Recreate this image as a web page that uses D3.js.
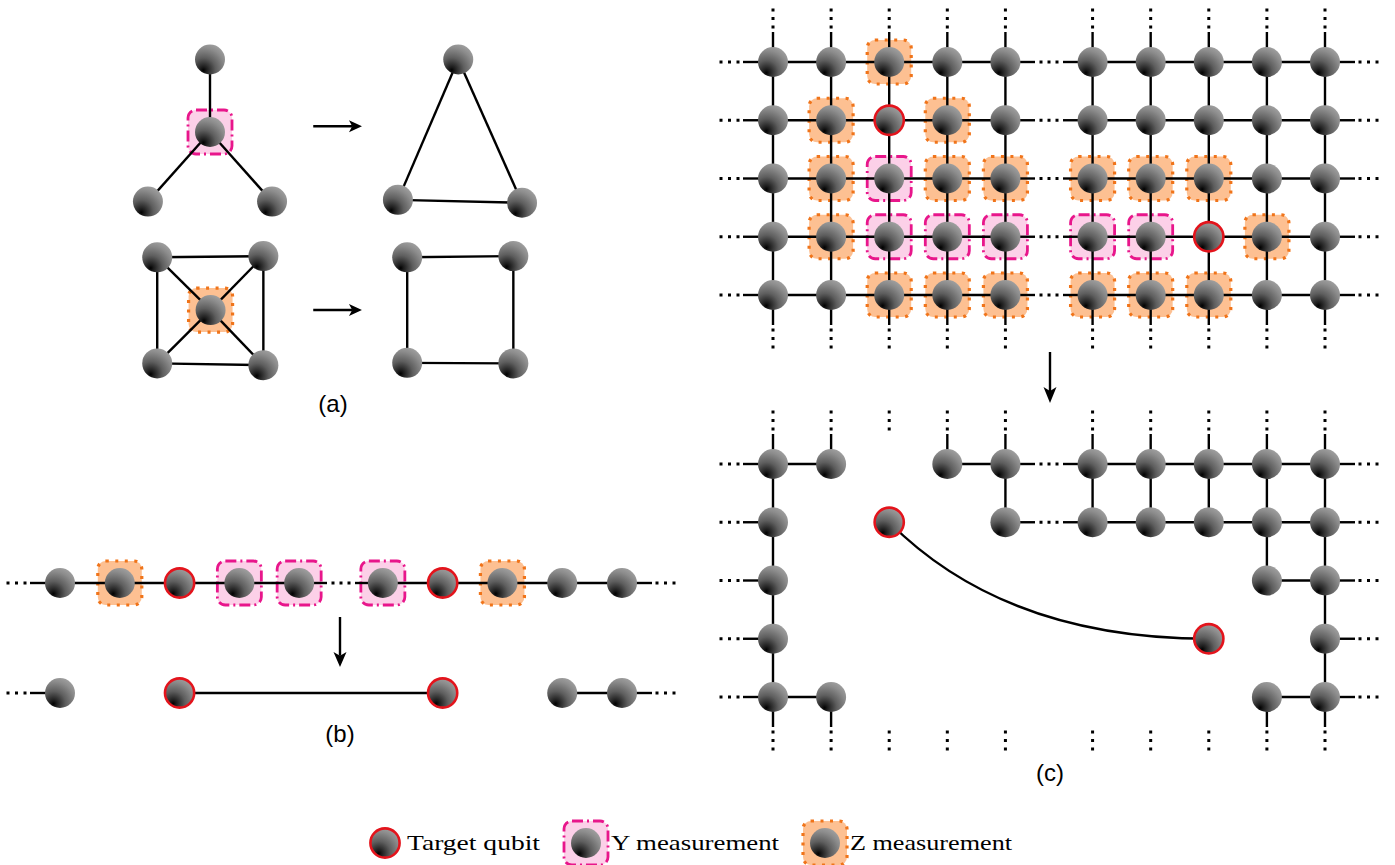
<!DOCTYPE html>
<html>
<head>
<meta charset="utf-8">
<script src="https://cdn.jsdelivr.net/npm/d3@7"></script>
<style>
  html, body { margin: 0; padding: 0; background: #fff; }
  svg { display: block; }
</style>
</head>
<body>
<svg id="fig" width="1395" height="865"></svg>
<script>
// ---- panel (a): small graphs, coordinates in node-spacing units around the star centre
const starNodes = [[0, -1.25], [0, 0], [-1.07, 1.2], [1.07, 1.2]];
const starKinds = ["o", "Y", "o", "o"];
const starEdges = [[1, 0], [1, 2], [1, 3]];
const triNodes = [[4.28, -1.25], [3.24, 1.17], [5.38, 1.22]];
const triEdges = [[0, 1], [1, 2], [2, 0]];
const sqNodes = [[-0.91, 2.16], [0.92, 2.14], [-0.91, 3.99], [0.92, 4.02], [0.01, 3.07]];
const sqKinds = ["o", "o", "o", "o", "Z"];
const sqEdges = [[0, 1], [1, 3], [3, 2], [2, 0], [0, 4], [1, 4], [2, 4], [3, 4]];
const sq2Nodes = [[3.4, 2.16], [5.23, 2.14], [3.4, 3.98], [5.23, 3.99]];
const sq2Edges = [[0, 1], [1, 3], [3, 2], [2, 0]];
const aArrows = [[1.78, -0.1, 2.62, -0.1], [1.78, 3.07, 2.62, 3.07]];

// ---- panel (b): linear cluster
const bUnits = [0, 1, 2, 3, 4, 5.4, 6.4, 7.4, 8.4, 9.4];
const bBefore = ["o", "Z", "T", "Y", "Y", "Y", "T", "Z", "o", "o"];
const bAfter = ["o", ".", "T", ".", ".", ".", "T", ".", "o", "o"];
const bAfterEdges = [[2, 6], [8, 9]];

// ---- panel (c): square lattice, before and after the measurements
const cUnits = [0, 1, 2, 3, 4, 5.5, 6.5, 7.5, 8.5, 9.5];
const cBefore = [
  "ooZooooooo",
  "oZTZoooooo",
  "oZYZZZZZoo",
  "oZYYYYYTZo",
  "ooZZZZZZoo"
];
const cAfter = [
  "oo.ooooooo",
  "o.T.oooooo",
  "o.......oo",
  "o......T.o",
  "oo......oo"
];
// horizontal edges [col, row] -> col+1 ; vertical edges [col, row] -> row+1
const cAfterH = [[0, 0], [3, 0], [4, 0], [5, 0], [6, 0], [7, 0], [8, 0],
                 [4, 1], [5, 1], [6, 1], [7, 1], [8, 1], [8, 2], [0, 4], [8, 4]];
const cAfterV = [[0, 0], [0, 1], [0, 2], [0, 3], [4, 0], [5, 0], [6, 0], [7, 0],
                 [8, 0], [8, 1], [9, 0], [9, 1], [9, 2], [9, 3]];
const cAfterTopLine = [0, 1, 3, 4, 5, 6, 7, 8, 9];
const cAfterTopDots = [2];
const cAfterBotLine = [0, 1, 8, 9];
const cAfterBotDots = [2, 3, 4, 5, 6, 7];
const cCurve = [[2, 1], [4, 3], [7.5, 3]];

const panelLabels = ["(a)", "(b)", "(c)"];
const legendLabels = ["Target qubit", "Y measurement", "Z measurement"];
const legendKinds = ["T", "Y", "Z"];
const legendWidths = [133, 168, 162];

// ---- scales
const xA = d3.scaleLinear().domain([0, 1]).range([210, 268]);
const yA = d3.scaleLinear().domain([0, 1]).range([132, 190]);
const xB = d3.scaleLinear().domain([0, 9.4]).range([60, 622]);
const yB = d3.scaleLinear().domain([0, 1]).range([583, 693]);
const xC = d3.scaleLinear().domain([0, 9.5]).range([773, 1325]);
const yC1 = d3.scaleLinear().domain([0, 4]).range([62, 295]);
const yC2 = d3.scaleLinear().domain([0, 4]).range([464, 697]);

const NODE_R = 15, BOX = 44;

const svg = d3.select("#fig");
const defs = svg.append("defs");
const grad = defs.append("radialGradient").attr("id", "ball")
  .attr("cx", 0.3).attr("cy", 0.82).attr("r", 0.95)
  .attr("fx", 0.28).attr("fy", 0.86);
[[0, "#000"], [0.1, "#1a1a1a"], [0.42, "#5e5e5e"], [0.75, "#8c8c8c"], [1, "#a6a6a6"]]
  .forEach(([o, c]) => grad.append("stop").attr("offset", o).attr("stop-color", c));

const gBox = svg.append("g");
const gEdge = svg.append("g").attr("stroke", "#000").attr("stroke-width", 2.4);
const gDots = svg.append("g").attr("fill", "#000");
const gNode = svg.append("g");
const gText = svg.append("g");

function box(g, x, y, kind) {
  const r = g.append("rect")
    .attr("x", x - BOX / 2).attr("y", y - BOX / 2)
    .attr("width", BOX).attr("height", BOX).attr("rx", 8);
  if (kind === "Y") {
    r.attr("fill", "#fcd0e8").attr("stroke", "#e8168b")
      .attr("stroke-width", 2.8).attr("stroke-dasharray", "11,4,2,4");
  } else {
    r.attr("fill", "#fdc092").attr("stroke", "#f0741a")
      .attr("stroke-width", 3.2).attr("stroke-dasharray", "3,6.5");
  }
}

function node(g, x, y, target) {
  const c = g.append("circle").attr("cx", x).attr("cy", y)
    .attr("r", NODE_R).attr("fill", "url(#ball)");
  if (target) c.attr("r", NODE_R - 0.4).attr("stroke", "#e3141c").attr("stroke-width", 2.6);
}

function place(x, y, kind) {
  if (kind === ".") return;
  if (kind === "Y" || kind === "Z") box(gBox, x, y, kind);
  node(gNode, x, y, kind === "T");
}

function edge(x1, y1, x2, y2) {
  gEdge.append("line").attr("x1", x1).attr("y1", y1).attr("x2", x2).attr("y2", y2);
}

function dot(x, y) {
  gDots.append("rect").attr("x", x - 1.5).attr("y", y - 1.5).attr("width", 3).attr("height", 3);
}

// line stub leaving a node, followed by three dots
function stub(x, y, dx, dy, withLine) {
  if (withLine) edge(x, y, x + dx * 30, y + dy * 30);
  [35, 43.5, 52].forEach(d => dot(x + dx * d, y + dy * d));
}

// horizontal link broken by a "..." in its middle
function gapEdge(x1, x2, y) {
  const m = (x1 + x2) / 2;
  edge(x1, y, m - 14, y);
  [-8, 0, 8].forEach(d => dot(m + d, y));
  edge(m + 14, y, x2, y);
}

function arrow(x1, y1, x2, y2, len, half) {
  const L = Math.hypot(x2 - x1, y2 - y1);
  const ux = (x2 - x1) / L, uy = (y2 - y1) / L;
  const px = -uy, py = ux;
  const bx = x2 - ux * len, by = y2 - uy * len;
  const ind = len * 0.25;
  edge(x1, y1, bx + ux * ind, by + uy * ind);
  gNode.append("path").attr("fill", "#000")
    .attr("d", `M${x2},${y2}L${bx + px * half},${by + py * half}` +
      `L${bx + ux * ind},${by + uy * ind}L${bx - px * half},${by - py * half}Z`);
}

// ---- panel (a)
function smallGraph(nodes, kinds, edges) {
  edges.forEach(([i, j]) => edge(xA(nodes[i][0]), yA(nodes[i][1]), xA(nodes[j][0]), yA(nodes[j][1])));
  nodes.forEach((p, i) => place(xA(p[0]), yA(p[1]), kinds ? kinds[i] : "o"));
}
smallGraph(starNodes, starKinds, starEdges);
smallGraph(triNodes, null, triEdges);
smallGraph(sqNodes, sqKinds, sqEdges);
smallGraph(sq2Nodes, null, sq2Edges);
aArrows.forEach(a => arrow(xA(a[0]), yA(a[1]), xA(a[2]), yA(a[3]), 13, 6));

// ---- panel (b)
const yb0 = yB(0), yb1 = yB(1);
stub(xB(bUnits[0]), yb0, -1, 0, true);
stub(xB(bUnits[9]), yb0, 1, 0, true);
for (let i = 0; i < bUnits.length - 1; i++) {
  if (i === 4) gapEdge(xB(bUnits[i]), xB(bUnits[i + 1]), yb0);
  else edge(xB(bUnits[i]), yb0, xB(bUnits[i + 1]), yb0);
}
bBefore.forEach((k, i) => place(xB(bUnits[i]), yb0, k));
stub(xB(bUnits[0]), yb1, -1, 0, true);
stub(xB(bUnits[9]), yb1, 1, 0, true);
bAfterEdges.forEach(([i, j]) => edge(xB(bUnits[i]), yb1, xB(bUnits[j]), yb1));
bAfter.forEach((k, i) => place(xB(bUnits[i]), yb1, k));
arrow(340, 617, 340, 667, 15, 6.5);

// ---- panel (c)
function hLink(c, r, y) {
  if (c === 4) gapEdge(xC(cUnits[c]), xC(cUnits[c + 1]), y(r));
  else edge(xC(cUnits[c]), y(r), xC(cUnits[c + 1]), y(r));
}
function vLink(c, r, y) {
  edge(xC(cUnits[c]), y(r), xC(cUnits[c]), y(r + 1));
}

// before: full lattice
cBefore.forEach((row, r) => {
  stub(xC(cUnits[0]), yC1(r), -1, 0, true);
  stub(xC(cUnits[9]), yC1(r), 1, 0, true);
  for (let c = 0; c < 9; c++) hLink(c, r, yC1);
});
cUnits.forEach((u, c) => {
  stub(xC(u), yC1(0), 0, -1, true);
  stub(xC(u), yC1(4), 0, 1, true);
  for (let r = 0; r < 4; r++) vLink(c, r, yC1);
});
cBefore.forEach((row, r) => row.split("").forEach((k, c) => place(xC(cUnits[c]), yC1(r), k)));

arrow(1050, 352, 1050, 403, 16, 6.5);

// after
cAfter.forEach((row, r) => {
  stub(xC(cUnits[0]), yC2(r), -1, 0, true);
  stub(xC(cUnits[9]), yC2(r), 1, 0, true);
});
cAfterH.forEach(([c, r]) => hLink(c, r, yC2));
cAfterV.forEach(([c, r]) => vLink(c, r, yC2));
cAfterTopLine.forEach(c => stub(xC(cUnits[c]), yC2(0), 0, -1, true));
cAfterTopDots.forEach(c => stub(xC(cUnits[c]), yC2(0), 0, -1, false));
cAfterBotLine.forEach(c => stub(xC(cUnits[c]), yC2(4), 0, 1, true));
cAfterBotDots.forEach(c => stub(xC(cUnits[c]), yC2(4), 0, 1, false));
const cp = d3.path();
cp.moveTo(xC(cCurve[0][0]), yC2(cCurve[0][1]));
cp.quadraticCurveTo(xC(cCurve[1][0]), yC2(cCurve[1][1]), xC(cCurve[2][0]), yC2(cCurve[2][1]));
gEdge.append("path").attr("d", cp.toString()).attr("fill", "none");
cAfter.forEach((row, r) => row.split("").forEach((k, c) => place(xC(cUnits[c]), yC2(r), k)));

// ---- labels
const labelPos = [[333, 412], [340, 742], [1050, 781]];
gText.selectAll("text.lab").data(panelLabels).join("text")
  .attr("class", "lab")
  .attr("x", (d, i) => labelPos[i][0]).attr("y", (d, i) => labelPos[i][1])
  .attr("text-anchor", "middle")
  .attr("font-family", "'Liberation Sans', Arial, sans-serif")
  .attr("font-size", 24).attr("fill", "#000")
  .text(d => d);

// ---- legend
let lx = 385;
const ly = 843;
legendLabels.forEach((t, i) => {
  place(lx, ly, legendKinds[i]);
  const tx = lx + (legendKinds[i] === "T" ? 22 : 25);
  gText.append("text")
    .attr("x", tx).attr("y", 850)
    .attr("font-family", "'Liberation Serif', 'Times New Roman', serif")
    .attr("font-size", 22).attr("fill", "#000")
    .attr("textLength", legendWidths[i]).attr("lengthAdjust", "spacingAndGlyphs")
    .text(t);
  lx = tx + legendWidths[i] + 46;
});
</script>
</body>
</html>
